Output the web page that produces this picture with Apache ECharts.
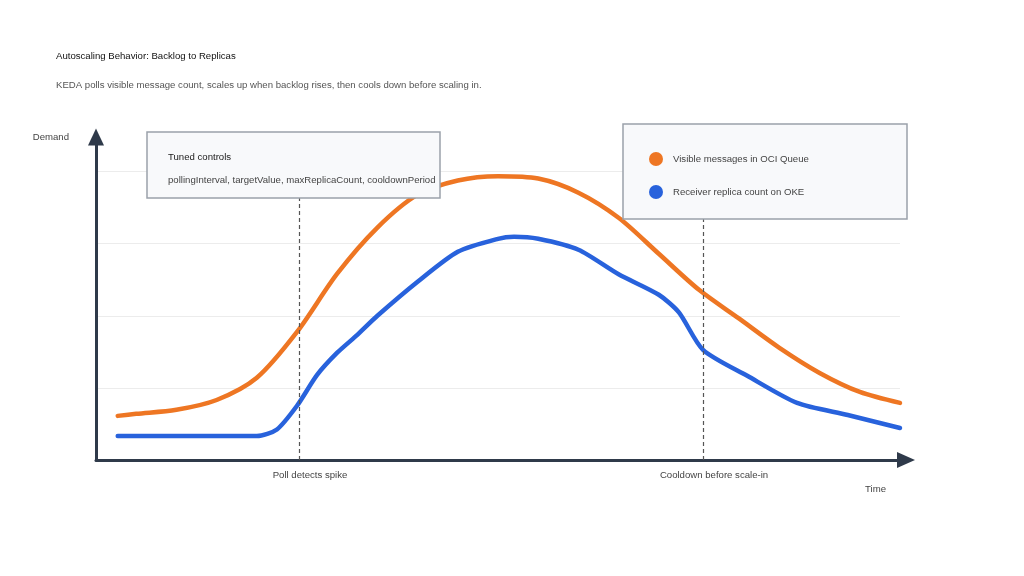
<!DOCTYPE html>
<html>
<head>
<meta charset="utf-8">
<title>Autoscaling Behavior</title>
<script src="https://cdn.jsdelivr.net/npm/echarts@6/dist/echarts.min.js"></script>
<style>
  html, body { margin: 0; padding: 0; background: #fff; }
  #chart { width: 1024px; height: 576px; }
</style>
</head>
<body>
<div id="chart"></div>
<script>
  // time runs 0..100, demand 0..112 (grid lines every 25)
  const queueTime = [2.7, 5, 10, 15, 20, 25, 30, 35, 40, 45, 50, 55, 60, 65, 70, 75, 80, 85, 90, 95, 100]
  const queueDepth = [15.3, 16.0, 17.4, 20.8, 28.5, 44.4, 64.6, 80.6, 92.0, 96.9, 98.4, 97.6, 92.7, 84.0, 71.5, 59.0, 49.0, 38.9, 30.2, 23.6, 19.8]

  const replicaTime = [2.7, 10, 20, 22.5, 25, 27.5, 30, 32.5, 35, 40, 45, 50, 52, 55, 60, 65, 70, 72.5, 75.5, 81, 87.2, 93.5, 100]
  const replicaCount = [8.3, 8.3, 8.3, 10.6, 18.8, 29.5, 37.2, 43.4, 50.0, 61.8, 72.2, 76.7, 77.4, 76.7, 72.9, 64.4, 57.3, 51.2, 38.2, 29.2, 19.8, 15.6, 11.1]

  const markerX = [25.25, 75.5]
  const markerLabels = ['Poll detects spike', 'Cooldown before scale-in']

  const seriesNames = ['Visible messages in OCI Queue', 'Receiver replica count on OKE']
  const controlsTitle = 'Tuned controls'
  const controlsText = 'pollingInterval, targetValue, maxReplicaCount, cooldownPeriod'

  const font = "'Liberation Sans', Arial, Helvetica, sans-serif"
  const fs = 9.6
  const axisColor = '#2f3a4a'

  const pairs = (xs, ys) => xs.map((x, i) => [x, ys[i]])

  const chart = echarts.init(document.getElementById('chart'))

  const option = {
    animation: false,
    textStyle: { fontFamily: font },
    title: {
      left: 56,
      top: 50,
      padding: 0,
      itemGap: 17,
      text: 'Autoscaling Behavior: Backlog to Replicas',
      subtext: 'KEDA polls visible message count, scales up when backlog rises, then cools down before scaling in.',
      textStyle: { fontSize: fs, fontWeight: 'normal', color: '#111', lineHeight: 12, fontFamily: font },
      subtextStyle: { fontSize: fs, color: '#555', lineHeight: 12, fontFamily: font },
    },
    legend: {
      left: 649,
      top: 152,
      padding: 0,
      orient: 'vertical',
      icon: 'circle',
      itemWidth: 14,
      itemHeight: 14,
      itemGap: 19,
      z: 120,
      data: seriesNames,
      textStyle: { fontSize: fs, color: '#444', padding: [0, 0, 0, 5], fontFamily: font },
    },
    grid: {
      left: 96,
      top: 137,
      right: 124,
      bottom: 116,
    },
    xAxis: {
      type: 'value',
      min: 0,
      max: 100,
      axisLine: {
        lineStyle: { color: axisColor, width: 3 },
        symbol: ['none', 'triangle'],
        symbolSize: [16, 18],
        symbolOffset: [0, 6],
      },
      axisTick: { show: false },
      splitLine: { show: false },
      axisLabel: {
        customValues: markerX,
        margin: 10,
        fontSize: fs,
        color: '#444',
        padding: [0, 0, 0, 22],
        formatter: (v) => markerLabels[markerX.indexOf(v)] || '',
      },
    },
    yAxis: {
      type: 'value',
      min: 0,
      max: 112,
      interval: 25,
      name: 'Demand',
      nameLocation: 'end',
      nameGap: 0,
      nameTextStyle: { fontSize: fs, color: '#444', align: 'right', verticalAlign: 'middle', padding: [0, 27, 0, 0], fontFamily: font },
      axisLine: {
        show: true,
        lineStyle: { color: axisColor, width: 3 },
        symbol: ['none', 'triangle'],
        symbolSize: [16, 17],
      },
      axisTick: { show: false },
      axisLabel: { show: false },
      splitLine: {
        showMaxLine: false,
        lineStyle: { color: '#ececec', width: 1 },
      },
    },
    graphic: [
      {
        type: 'text',
        x: 865,
        y: 489,
        style: { text: 'Time', fill: '#444', font: fs + 'px ' + font, verticalAlign: 'middle' },
      },
      {
        type: 'rect',
        z: 100,
        shape: { x: 147, y: 132, width: 293, height: 66 },
        style: { fill: '#f8f9fb', stroke: '#9ba1aa', lineWidth: 1.5 },
      },
      {
        type: 'text',
        z: 101,
        x: 168,
        y: 157,
        style: { text: controlsTitle, fill: '#1a1a1a', font: fs + 'px ' + font, verticalAlign: 'middle' },
      },
      {
        type: 'text',
        z: 101,
        x: 168,
        y: 180,
        style: { text: controlsText, fill: '#444', font: fs + 'px ' + font, verticalAlign: 'middle' },
      },
      {
        type: 'rect',
        z: 100,
        shape: { x: 623, y: 124, width: 284, height: 95 },
        style: { fill: '#f8f9fb', stroke: '#9ba1aa', lineWidth: 1.5 },
      },
    ],
    series: [
      {
        name: seriesNames[0],
        type: 'line',
        smooth: 0.3,
        showSymbol: false,
        itemStyle: { color: '#ee7623' },
        lineStyle: { color: '#ee7623', width: 4.5, cap: 'round', join: 'round' },
        data: pairs(queueTime, queueDepth),
        markLine: {
          silent: true,
          symbol: 'none',
          label: { show: false },
          lineStyle: { color: '#555', type: [4, 3], width: 1.2 },
          data: markerX.map((x) => ({ xAxis: x })),
        },
      },
      {
        name: seriesNames[1],
        type: 'line',
        smooth: 0.25,
        showSymbol: false,
        itemStyle: { color: '#2862dc' },
        lineStyle: { color: '#2862dc', width: 4.5, cap: 'round', join: 'round' },
        data: pairs(replicaTime, replicaCount),
      },
    ],
  }

  chart.setOption(option)
  window.addEventListener('resize', () => {
    chart.resize()
  })
</script>
</body>
</html>
